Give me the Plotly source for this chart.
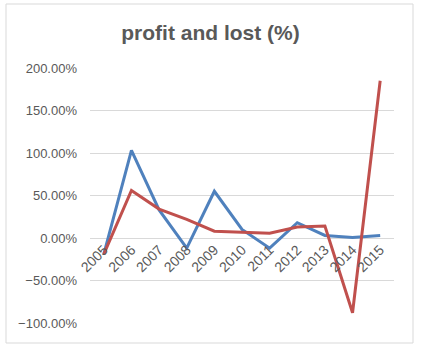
import plotly.graph_objects as go

years = ["2005", "2006", "2007", "2008", "2009", "2010", "2011", "2012", "2013", "2014", "2015"]
series_blue = [-0.19, 1.03, 0.33, -0.12, 0.55, 0.10, -0.12, 0.18, 0.03, 0.005, 0.03]
series_red = [-0.19, 0.56, 0.34, 0.22, 0.08, 0.07, 0.055, 0.13, 0.14, -0.88, 1.85]
title_text = "profit and lost (%)"

W, H = 421, 349
L, R, T, B = 90, 27, 68, 26
pw, ph = W - L - R, H - T - B

fig = go.Figure()
fig.add_trace(go.Scatter(x=years, y=series_blue, mode="lines",
                         line=dict(color="#4F81BD", width=3), showlegend=False))
fig.add_trace(go.Scatter(x=years, y=series_red, mode="lines",
                         line=dict(color="#C0504D", width=3), showlegend=False))

fig.update_layout(
    width=W, height=H,
    margin=dict(l=L, r=R, t=T, b=B, pad=0, autoexpand=False),
    paper_bgcolor="white", plot_bgcolor="white",
    font=dict(family="Liberation Sans, Arial, sans-serif", color="#595959", size=13),
    title=dict(text="<b>" + title_text + "</b>", x=0.5, xanchor="center",
               y=1 - 33 / H, yanchor="middle",
               font=dict(size=21, color="#595959")),
    xaxis=dict(type="category", anchor="free", position=1/3,
               range=[-0.5, len(years) - 0.5],
               showgrid=False, showline=False, zeroline=False, automargin=False,
               ticks="", tickangle=-45, tickfont=dict(size=14, color="#595959")),
    yaxis=dict(range=[-1, 2], dtick=0.5, tickformat=".2%", automargin=False,
               showgrid=True, gridcolor="#d9d9d9", gridwidth=1,
               zeroline=True, zerolinecolor="#d9d9d9", zerolinewidth=1,
               showline=False, ticks="", ticklabelstandoff=12,
               tickfont=dict(size=13, color="#595959")),
    shapes=[dict(type="rect", xref="paper", yref="paper",
                 x0=(6 - L) / pw, x1=(413 - L) / pw,
                 y0=(H - B - 343) / ph, y1=(H - B - 4) / ph,
                 line=dict(color="#d9d9d9", width=1), layer="below")],
)

fig.write_html("out.html", config={"displayModeBar": False},
               post_script="document.body.style.margin='0';document.body.style.overflow='hidden';")
